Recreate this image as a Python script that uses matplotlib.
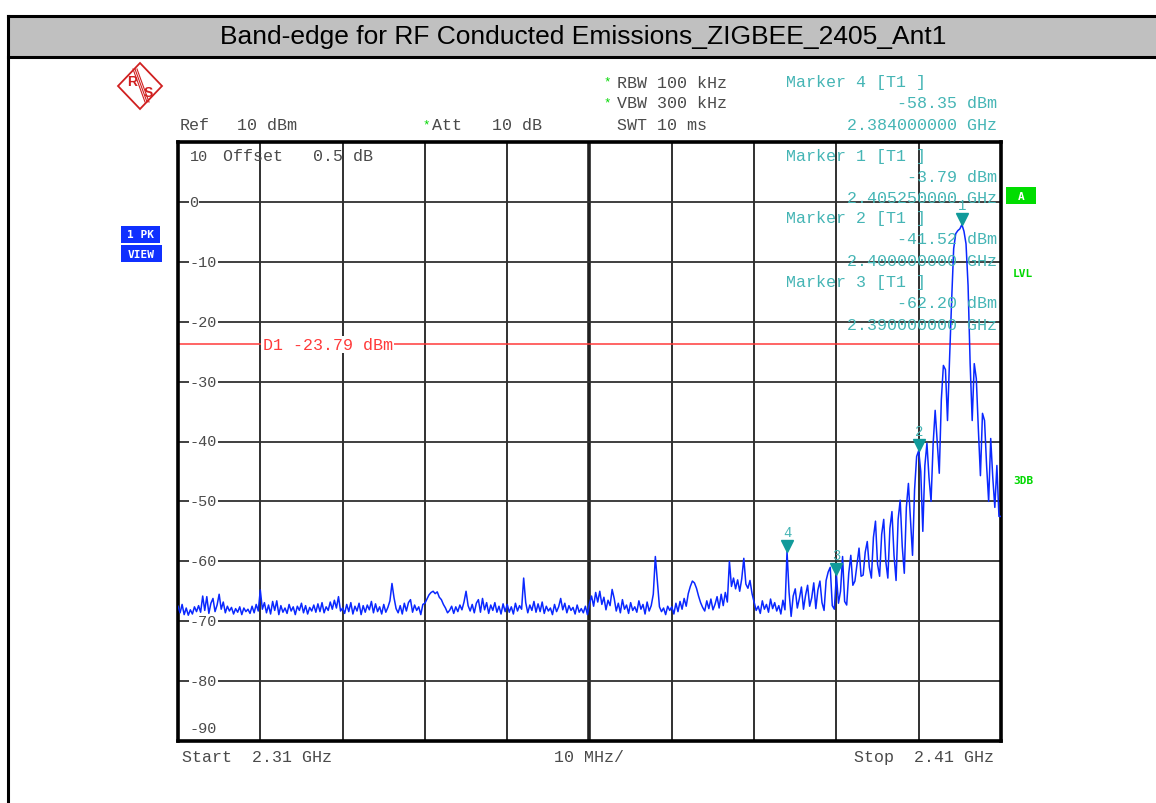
import numpy as np
import matplotlib.pyplot as plt
from matplotlib.patches import Rectangle, Polygon
from matplotlib.lines import Line2D
from matplotlib.transforms import ScaledTranslation

W, H = 1156, 804

# sweep setup
f_start, f_stop = 2310.0, 2410.0   # MHz
ref_level, bottom_level = 10, -90  # dBm
step = 0.25                        # MHz between trace points
display_line = -23.79              # D1

# trace levels (dBm), one list per 10 MHz division, 0.25 MHz apart
div1 = [-67.5, -68.6, -67.2, -68.9, -67.8, -69.0, -68.1, -68.8, -67.6, -68.4,
        -67.4, -68.5, -65.8, -68.2, -65.9, -68.7, -67.0, -66.2, -68.4, -67.3,
        -65.5, -68.0, -66.8, -68.6, -67.5, -68.3, -67.7, -68.8, -67.9, -68.5,
        -67.6, -68.9, -67.8, -68.4, -68.0, -68.7, -67.5, -68.6, -67.2, -68.3]
div2 = [-64.8, -68.0, -66.9, -68.6, -67.3, -68.8, -66.7, -68.2, -66.6, -68.9,
        -67.4, -68.5, -67.8, -68.7, -67.2, -68.3, -67.6, -68.9, -67.5, -68.2,
        -67.0, -68.6, -67.4, -68.8, -67.7, -68.3, -67.3, -68.5, -67.1, -68.4,
        -66.9, -68.6, -67.6, -68.2, -66.8, -68.0, -66.5, -67.8, -65.9, -68.3]
div3 = [-67.8, -68.7, -67.2, -68.4, -66.9, -68.8, -67.5, -68.3, -67.0, -68.9,
        -67.4, -68.5, -67.3, -68.1, -66.7, -68.6, -67.1, -68.4, -67.6, -68.8,
        -67.2, -68.5, -67.7, -66.6, -63.7, -66.1, -67.9, -68.6, -67.4, -68.8,
        -67.0, -68.3, -66.9, -66.4, -68.5, -67.3, -68.2, -67.6, -68.9, -67.2]
div4 = [-67.0, -66.3, -65.6, -65.2, -65.0, -65.4, -65.1, -66.0, -66.4, -67.2,
        -67.8, -68.6, -68.2, -67.5, -68.7, -67.6, -68.4, -67.3, -68.1, -66.8,
        -65.0, -67.4, -68.3, -67.2, -68.6, -67.0, -66.4, -68.5, -66.2, -68.1,
        -66.9, -68.7, -67.3, -68.2, -66.9, -68.5, -67.5, -68.8, -67.1, -68.4]
div5 = [-67.2, -68.5, -67.6, -68.8, -67.0, -68.3, -67.4, -68.0, -62.8, -66.9,
        -68.6, -67.3, -68.2, -66.7, -68.5, -67.1, -68.4, -66.8, -68.7, -67.5,
        -68.3, -67.8, -68.9, -67.2, -68.4, -67.6, -66.2, -68.1, -67.0, -68.6,
        -67.4, -68.2, -67.7, -68.8, -67.3, -68.5, -67.9, -68.6, -67.5, -68.9]
div6 = [-67.0, -65.8, -67.5, -65.2, -66.8, -65.0, -67.2, -66.0, -68.1, -66.5,
        -67.4, -64.7, -66.2, -68.3, -67.0, -68.6, -66.4, -68.0, -67.3, -68.7,
        -66.9, -68.2, -67.6, -68.5, -66.6, -68.0, -67.2, -68.8, -66.8, -68.3,
        -67.4, -65.5, -59.2, -63.3, -67.6, -68.4, -67.8, -68.9, -67.5, -68.2]
div7 = [-67.6, -68.8, -67.0, -68.4, -66.7, -68.0, -66.2, -67.5, -65.4, -64.2,
        -63.3, -63.6, -64.5, -65.8, -66.9, -67.7, -68.3, -66.6, -67.9, -66.3,
        -68.1, -67.2, -65.9, -67.8, -65.5, -67.4, -65.2, -66.8, -60.0, -64.2,
        -62.8, -64.6, -63.1, -65.0, -62.9, -59.5, -63.8, -64.5, -63.2, -65.4]
div8 = [-66.8, -68.2, -67.5, -68.7, -66.6, -68.0, -67.2, -68.5, -66.3, -67.9,
        -66.9, -68.3, -67.4, -68.8, -66.5, -68.1, -58.35, -65.2, -69.2, -65.8,
        -64.6, -67.8, -66.2, -64.3, -68.0, -65.7, -64.0, -67.5, -66.1, -63.6,
        -67.9, -64.8, -63.3, -66.9, -68.2, -63.2, -61.8, -61.0, -67.4, -68.0]
div9 = [-62.2, -67.0, -65.0, -59.2, -66.7, -67.3, -62.0, -59.0, -64.0, -63.3,
        -60.5, -57.8, -62.5, -62.3, -58.5, -56.7, -61.0, -62.8, -56.0, -53.3,
        -60.5, -62.5, -55.5, -53.0, -60.0, -62.8, -54.5, -51.7, -59.0, -63.2,
        -53.0, -49.8, -57.5, -62.0, -51.0, -47.0, -53.0, -59.0, -48.0, -42.5]
div10 = [-41.52, -45.0, -55.0, -44.0, -40.3, -46.0, -50.0, -40.5, -34.8, -40.0,
         -45.3, -33.0, -27.3, -28.0, -36.5, -26.2, -16.5, -7.8, -5.3, -4.8,
         -4.5, -3.79, -4.9, -7.0, -14.0, -27.0, -36.5, -27.0, -29.5, -38.0,
         -45.7, -35.3, -36.5, -44.0, -50.0, -39.5, -46.0, -51.0, -44.0, -52.5]

# markers: number, frequency (MHz), level (dBm)
marker_ids = [1, 2, 3, 4]
marker_freqs = [2405.25, 2400.0, 2390.0, 2384.0]
marker_levels = [-3.79, -41.52, -62.20, -58.35]

levels = np.array(div1 + div2 + div3 + div4 + div5 + div6 + div7 + div8 + div9 + div10)
freqs = f_start + step * np.arange(len(levels))

fig = plt.figure(figsize=(W / 100, H / 100), dpi=100)
fig.patch.set_facecolor("white")


def fx(x):
    return x / W


def fy(y):
    return 1 - y / H


MONO = "Liberation Mono"
GREY = "#4a4a4a"
TEAL = "#45b5b5"
TEAL_DARK = "#119a9a"
GREEN = "#00d800"
BLUE = "#0a28ff"
RED = "#ff3a3a"
LOGO = "#d02020"

# title bar
fig.patches.append(Rectangle((fx(8), fy(58)), 1 - fx(8), fy(17) - fy(58),
                             transform=fig.transFigure, facecolor="#c0c0c0",
                             edgecolor="none", zorder=0))
fig.add_artist(Line2D([fx(8), 1], [fy(17), fy(17)], color="black", lw=2.2))
fig.add_artist(Line2D([fx(8), 1], [fy(58), fy(58)], color="black", lw=2.2))
fig.add_artist(Line2D([fx(8), fx(8)], [fy(17), 0], color="black", lw=2.2))
fig.text(fx(583), fy(37), "Band-edge for RF Conducted Emissions_ZIGBEE_2405_Ant1",
         ha="center", va="center", fontsize=19, family="Liberation Sans", color="black")

# R&S logo
cx, cy = 140, 87
fig.add_artist(Polygon([(fx(cx), fy(cy - 23)), (fx(cx + 22), fy(cy)),
                        (fx(cx), fy(cy + 23)), (fx(cx - 22), fy(cy))],
                       closed=True, fill=False, edgecolor=LOGO, lw=1.3,
                       transform=fig.transFigure))
for d in (-2, 0, 2):
    fig.add_artist(Line2D([fx(cx - 5 + d), fx(cx + 7 + d)], [fy(cy - 17), fy(cy + 16)],
                          color=LOGO, lw=0.8))
fig.text(fx(cx - 8), fy(cy - 5), "R", color=LOGO, fontsize=10, fontweight="bold",
         ha="center", va="center", family="Liberation Sans")
fig.text(fx(cx + 8), fy(cy + 6), "S", color=LOGO, fontsize=10, fontweight="bold",
         ha="center", va="center", family="Liberation Sans")


# header settings
def mono(x, y, s, color=GREY, ha="left", size=12):
    fig.text(fx(x), fy(y), s, ha=ha, va="center", fontsize=size, family=MONO, color=color)


mono(180, 126, "Ref")
mono(237, 126, "10 dBm")
mono(422, 125, "*", color=GREEN, size=9)
mono(432, 126, "Att   10 dB")
mono(617, 126, "SWT 10 ms")
mono(603, 82, "*", color=GREEN, size=9)
mono(617, 83, "RBW 100 kHz")
mono(603, 103, "*", color=GREEN, size=9)
mono(617, 104, "VBW 300 kHz")

# marker readouts
readout_rows = {4: 83, 1: 156, 2: 219, 3: 283}
for mid, mf, ml in zip(marker_ids, marker_freqs, marker_levels):
    y0 = readout_rows[mid]
    mono(786, y0, f"Marker {mid} [T1 ]", color=TEAL)
    mono(997, y0 + 21, f"{ml:.2f} dBm", color=TEAL, ha="right")
    mono(997, y0 + 43, f"{mf / 1000:.9f} GHz", color=TEAL, ha="right")


# side annotations
def tag(x0, y0, x1, y1, s, fc, tc="white"):
    fig.patches.append(Rectangle((fx(x0), fy(y1)), fx(x1) - fx(x0), fy(y0) - fy(y1),
                                 transform=fig.transFigure, facecolor=fc,
                                 edgecolor="none", zorder=1))
    fig.text(fx((x0 + x1) / 2), fy((y0 + y1) / 2), s, ha="center", va="center",
             fontsize=8, fontweight="bold", family="DejaVu Sans Mono", color=tc, zorder=2)


tag(121, 227, 160, 244, "1 PK", "#1030ff")
tag(121, 246, 162, 263, "VIEW", "#1030ff")
tag(1006, 188, 1036, 205, "A", "#00dd00")
fig.text(fx(1023), fy(274), "LVL", ha="center", va="center", fontsize=8,
         fontweight="bold", family="DejaVu Sans Mono", color=GREEN)
fig.text(fx(1023), fy(481), "3DB", ha="center", va="center", fontsize=8,
         fontweight="bold", family="DejaVu Sans Mono", color=GREEN)

# screen area
ax = fig.add_axes([fx(178), fy(742), fx(1001) - fx(178), fy(143) - fy(742)])
ax.set_xlim(f_start, f_stop)
ax.set_ylim(bottom_level, ref_level)
ax.set_xticks([])
ax.set_yticks([])
for sp in ax.spines.values():
    sp.set_linewidth(2.6)
    sp.set_color("black")

for f in np.arange(f_start + 10, f_stop, 10):
    lw = 2.6 if abs(f - (f_start + f_stop) / 2) < 1e-6 else 1.3
    ax.axvline(f, color="#202020", lw=lw, zorder=1)
for lv in range(ref_level - 10, bottom_level, -10):
    ax.axhline(lv, color="#303030", lw=1.3, zorder=1)

# level scale
for lv in range(ref_level, bottom_level - 1, -10):
    ypos = lv
    if lv == ref_level:
        ypos = lv - 2.3
    elif lv == bottom_level:
        ypos = lv + 2.2
    ax.text(f_start + 1.4, ypos, str(lv), fontsize=11, family=MONO, color=GREY,
            ha="left", va="center", zorder=3,
            bbox=dict(facecolor="white", edgecolor="none", pad=0.6))
ax.text(f_start + 5.5, ref_level - 2.3, "Offset   0.5 dB", fontsize=12, family=MONO,
        color=GREY, ha="left", va="center", zorder=3)

# display line D1
ax.axhline(display_line, color=RED, lw=1.1, zorder=2)
ax.text(f_start + 10.3, display_line, f"D1 {display_line:.2f} dBm", fontsize=12,
        family=MONO, color=RED, ha="left", va="center", zorder=3,
        bbox=dict(facecolor="white", edgecolor="none", pad=1.0))

# trace
ax.plot(freqs.tolist() + [f_stop], levels.tolist() + [levels[-1]], color=BLUE,
        lw=1.1, zorder=4, clip_on=True)

# marker symbols
up = ScaledTranslation(0, 4 / 72, fig.dpi_scale_trans)
up_txt = ScaledTranslation(0, 14 / 72, fig.dpi_scale_trans)
for mid, mf, ml in zip(marker_ids, marker_freqs, marker_levels):
    ax.plot([mf], [ml], marker="v", ms=8, color=TEAL_DARK, mec=TEAL_DARK,
            transform=ax.transData + up, zorder=5, clip_on=False)
    ax.text(mf, ml, str(mid), transform=ax.transData + up_txt, fontsize=10,
            family=MONO, color=TEAL, ha="center", va="center", zorder=5)

# span info
mono(182, 758, f"Start  {f_start / 1000:.2f} GHz")
mono(554, 758, "10 MHz/")
mono(994, 758, f"Stop  {f_stop / 1000:.2f} GHz", ha="right")

fig.savefig("out.png", dpi=100, facecolor="white")
